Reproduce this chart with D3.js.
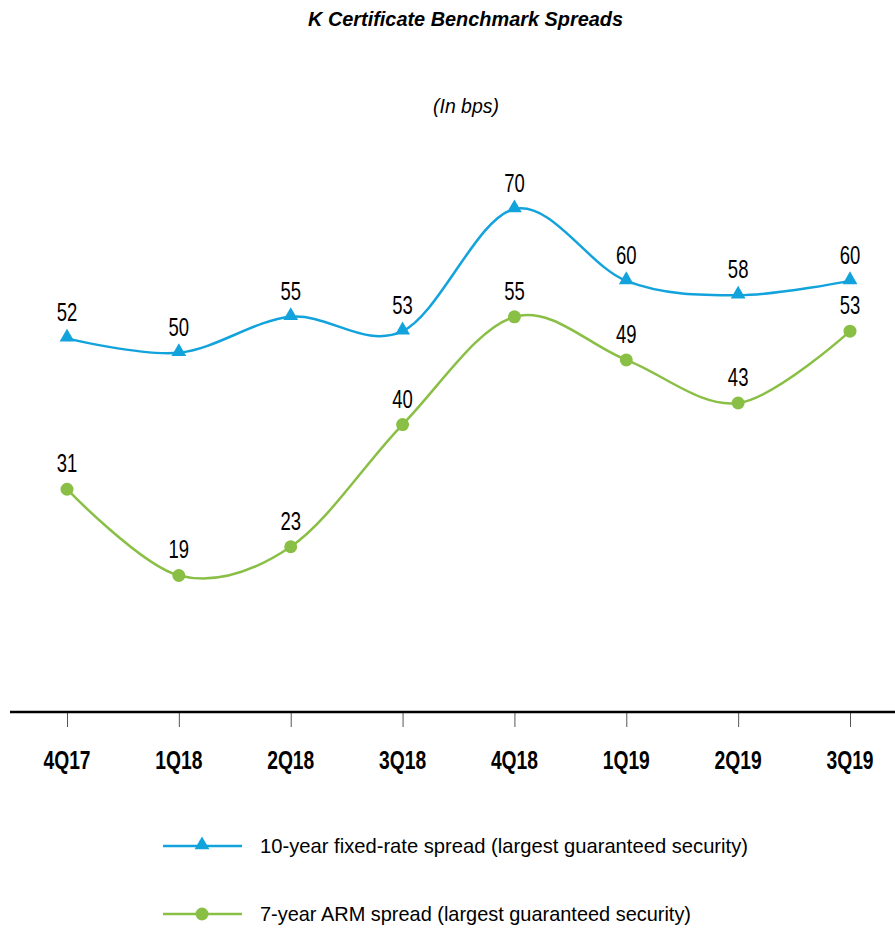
<!DOCTYPE html>
<html>
<head>
<meta charset="utf-8">
<script src="https://cdn.jsdelivr.net/npm/d3@7"></script>
<style>
  html, body { margin: 0; padding: 0; background: #fff; }
  svg { display: block; }
</style>
</head>
<body>
<div id="chart"></div>
<script>
// data
const quarters = ["4Q17", "1Q18", "2Q18", "3Q18", "4Q18", "1Q19", "2Q19", "3Q19"];
const fixedRate = [52, 50, 55, 53, 70, 60, 58, 60];
const armSpread = [31, 19, 23, 40, 55, 49, 43, 53];
const seriesNames = [
    "10-year fixed-rate spread (largest guaranteed security)",
    "7-year ARM spread (largest guaranteed security)"
];

const width = 895, height = 930;
const font = "'Liberation Sans', Arial, Helvetica, sans-serif";
const blue = "#12a3dc";
const green = "#8abf46";

const svg = d3.select("#chart").append("svg")
    .attr("width", width)
    .attr("height", height)
    .style("font-family", font);

const x = d3.scalePoint()
    .domain(quarters)
    .range([67, 850]);

const y = d3.scaleLinear()
    .domain([0, 70])
    .range([712, 209]);

// texte "condensé" : police normale compressée horizontalement
function narrowText(parent, tx, ty, txt, size, sx, weight) {
    return parent.append("text")
        .attr("transform", `translate(${tx},${ty}) scale(${sx},1)`)
        .attr("text-anchor", "middle")
        .style("font-size", size + "px")
        .style("font-weight", weight || "normal")
        .attr("fill", "#000")
        .text(txt);
}

// titre
svg.append("text")
    .attr("x", 308)
    .attr("y", 26)
    .attr("textLength", 315)
    .attr("lengthAdjust", "spacingAndGlyphs")
    .style("font-size", "20px")
    .style("font-weight", "bold")
    .style("font-style", "italic")
    .text("K Certificate Benchmark Spreads");

svg.append("text")
    .attr("x", 433)
    .attr("y", 113)
    .attr("textLength", 66)
    .attr("lengthAdjust", "spacingAndGlyphs")
    .style("font-size", "20px")
    .style("font-style", "italic")
    .text("(In bps)");

// axe x
const xAxis = g => g
    .attr("transform", `translate(0,${y(0)})`)
    .call(d3.axisBottom(x).tickSize(15).tickFormat(""))
    .call(g => g.select(".domain").remove())
    .call(g => g.selectAll(".tick line").attr("stroke", "#555").attr("stroke-width", 1));

svg.append("g").call(xAxis);

quarters.forEach(q => narrowText(svg, x(q), 769, q, 25, 0.77, "bold"));

svg.append("line")
    .attr("x1", 10).attr("x2", width)
    .attr("y1", y(0)).attr("y2", y(0))
    .attr("stroke", "#000")
    .attr("stroke-width", 2.5);

const line = d3.line()
    .x((d, i) => x(quarters[i]))
    .y(d => y(d))
    .curve(d3.curveCardinal.tension(0));

const triangle = d3.symbol().type(d3.symbolTriangle).size(95);

function drawSeries(values, color, marker) {
    svg.append("path")
        .datum(values)
        .attr("fill", "none")
        .attr("stroke", color)
        .attr("stroke-width", 2.5)
        .attr("d", line);

    const pts = svg.append("g")
        .selectAll("g")
        .data(values)
        .join("g")
        .attr("transform", (d, i) => `translate(${x(quarters[i])},${y(d)})`);

    if (marker === "triangle") {
        pts.append("path").attr("d", triangle).attr("fill", color)
            .attr("transform", "translate(0,-1)");
    } else {
        pts.append("circle").attr("r", 6.5).attr("fill", color);
    }

    pts.each(function (d) {
        narrowText(d3.select(this), 0, -17, d, 25, 0.74);
    });
}

drawSeries(fixedRate, blue, "triangle");
drawSeries(armSpread, green, "circle");

// légende
const legend = svg.append("g");
const legendRows = [
    { name: seriesNames[0], color: blue, marker: "triangle", y: 846, len: 488 },
    { name: seriesNames[1], color: green, marker: "circle", y: 914, len: 431 }
];

legendRows.forEach(r => {
    const g = legend.append("g").attr("transform", `translate(0,${r.y})`);
    g.append("line")
        .attr("x1", 163).attr("x2", 242)
        .attr("stroke", r.color)
        .attr("stroke-width", 2.5);
    if (r.marker === "triangle") {
        g.append("path").attr("d", triangle).attr("fill", r.color)
            .attr("transform", "translate(202,-1)");
    } else {
        g.append("circle").attr("cx", 202).attr("r", 6.5).attr("fill", r.color);
    }
    g.append("text")
        .attr("x", 260)
        .attr("y", 7)
        .attr("textLength", r.len)
        .attr("lengthAdjust", "spacingAndGlyphs")
        .style("font-size", "21px")
        .attr("fill", "#000")
        .text(r.name);
});
</script>
</body>
</html>
